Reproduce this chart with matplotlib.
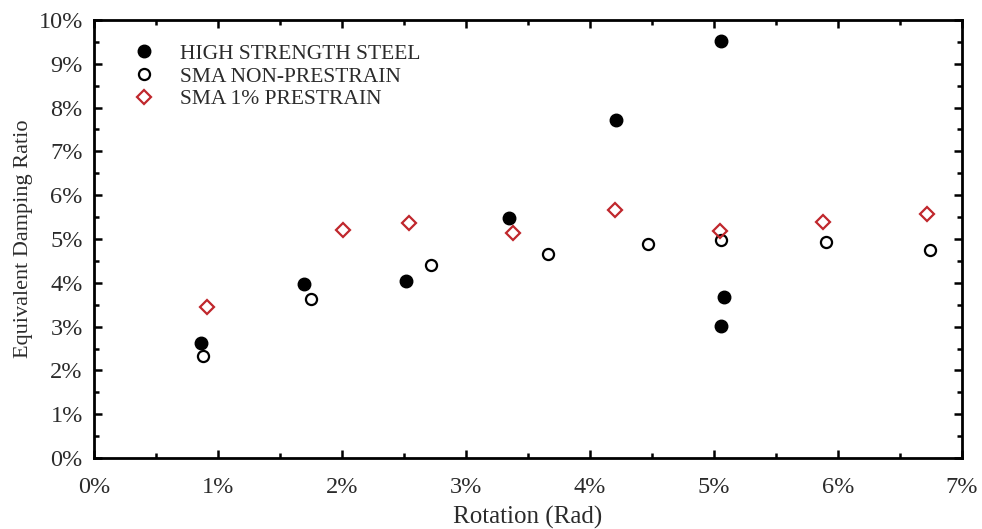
import numpy as np
import matplotlib
matplotlib.use('Agg')
import matplotlib.pyplot as plt
from matplotlib.ticker import MultipleLocator, FuncFormatter

plt.rcParams['font.family'] = ['Liberation Serif', 'DejaVu Serif']

# rotation (%) vs equivalent damping ratio (%)
hss_x = [0.86, 1.69, 2.52, 3.35, 4.21, 5.06, 5.08, 5.06]
hss_y = [2.63, 3.97, 4.04, 5.48, 7.72, 9.52, 3.68, 3.01]

sma_x = [0.88, 1.75, 2.72, 3.66, 4.47, 5.06, 5.90, 6.74]
sma_y = [2.33, 3.63, 4.41, 4.66, 4.89, 4.98, 4.93, 4.75]

pre_x = [0.91, 2.01, 2.54, 3.38, 4.20, 5.05, 5.88, 6.72]
pre_y = [3.45, 5.20, 5.37, 5.14, 5.66, 5.18, 5.39, 5.57]

labels = ['HIGH STRENGTH STEEL', 'SMA NON-PRESTRAIN', 'SMA 1% PRESTRAIN']

fig = plt.figure(figsize=(9.82, 5.29), dpi=100)
ax = fig.add_axes([0.0957, 0.1342, 0.884, 0.828])

ax.plot(hss_x, hss_y, 'o', color='black', ms=9, label=labels[0], zorder=3)
ax.plot(sma_x, sma_y, 'o', mfc='white', mec='black', mew=1.6, ms=8, label=labels[1], zorder=2)
ax.plot(pre_x, pre_y, 'D', mfc='none', mec='#c0272d', mew=1.6, ms=7, label=labels[2], zorder=2)

ax.set_xlim(0, 7)
ax.set_ylim(0, 10)
ax.xaxis.set_major_locator(MultipleLocator(1))
ax.xaxis.set_minor_locator(MultipleLocator(0.5))
ax.yaxis.set_major_locator(MultipleLocator(1))
ax.yaxis.set_minor_locator(MultipleLocator(0.5))
pct = FuncFormatter(lambda v, p: '%d%%' % round(v))
ax.xaxis.set_major_formatter(pct)
ax.yaxis.set_major_formatter(pct)

ax.tick_params(which='both', direction='in', top=True, right=True, width=1.8, colors='black',
               labelsize=17.5, labelcolor='#2b2b2b')
ax.tick_params(which='major', length=6)
ax.tick_params(which='minor', length=3.5)
ax.tick_params(axis='x', pad=13.5)
ax.tick_params(axis='y', pad=8)
for s in ax.spines.values():
    s.set_linewidth(2)

ax.set_xlabel('Rotation (Rad)', fontsize=18, color='#2b2b2b', labelpad=6)
ax.set_ylabel('Equivalent Damping Ratio', fontsize=16, color='#2b2b2b', labelpad=4)

leg = ax.legend(loc='upper left', frameon=False, fontsize=15.5, handletextpad=1.2,
                labelspacing=0.12, borderaxespad=0, bbox_to_anchor=(0.035, 0.965),
                handlelength=1.0)
for t in leg.get_texts():
    t.set_color('#2b2b2b')

plt.savefig('out.png', dpi=100)
